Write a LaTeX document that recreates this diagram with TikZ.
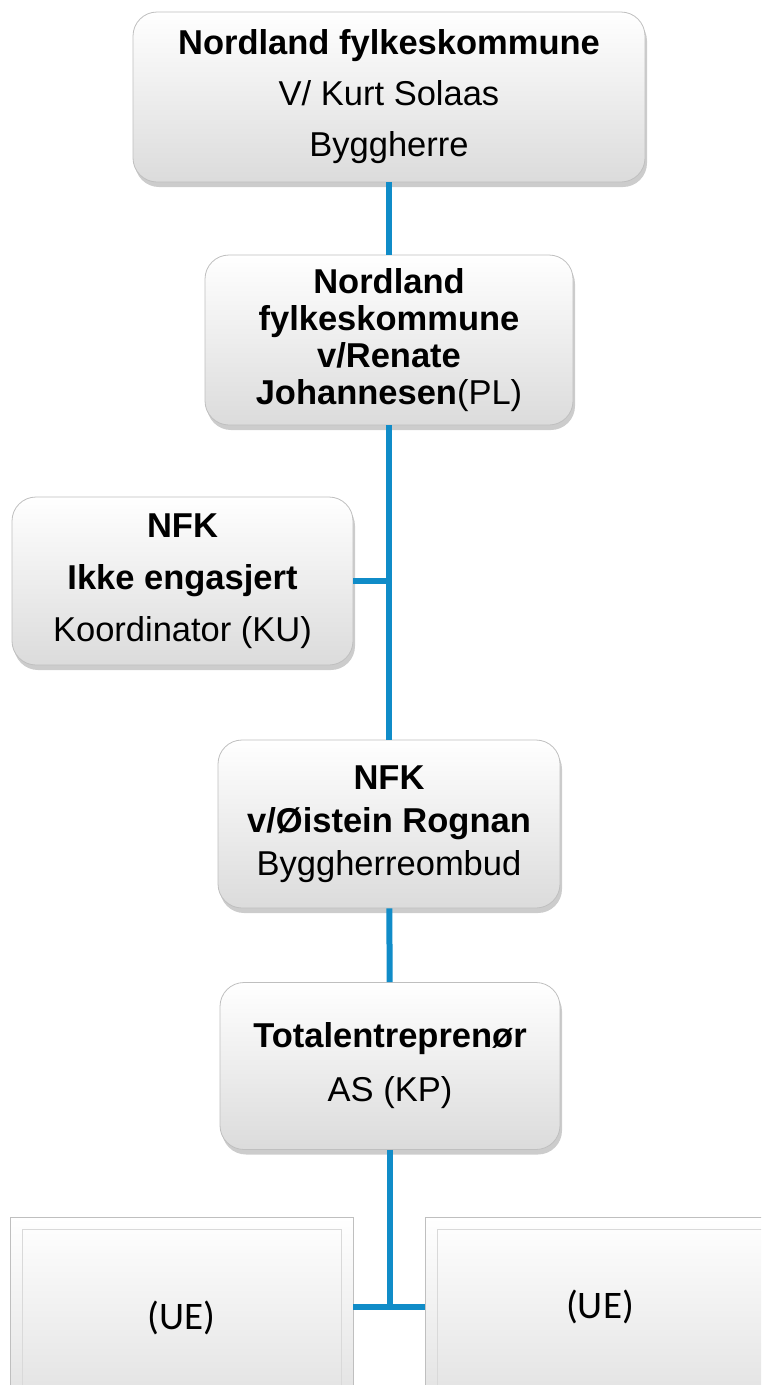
\documentclass[tikz,border=0pt]{standalone}
\usepackage{fontspec}
\setmainfont{Liberation Sans}
\newfontfamily\uefont{Carlito}
\usetikzlibrary{positioning}
\usetikzlibrary{shadows}
\definecolor{linjeblaa}{RGB}{16,140,200}

\tikzset{
  orgboks/.style={draw=gray!50, line width=0.8pt, rounded corners=24pt,
    top color=white, bottom color=gray!28, align=center, inner sep=0pt,
    drop shadow={shadow xshift=2pt, shadow yshift=-5pt, opacity=0.4}},
  ueboks/.style={draw=gray!50, line width=0.8pt, top color=white,
    bottom color=gray!22, align=center, inner sep=0pt,
    minimum width=343pt, minimum height=180pt,
    font=\uefont\fontsize{39}{50}\selectfont,
    path picture={\draw[gray!30, line width=0.6pt]
      ([shift={(12pt,-12pt)}]path picture bounding box.north west) rectangle
      ([shift={(-12pt,12pt)}]path picture bounding box.south east);}},
  linje/.style={draw=linjeblaa, line width=6pt}
}

\begin{document}
\begin{tikzpicture}[x=1pt, y=-1pt]
        \useasboundingbox (0,0) rectangle (761,1385);
        \clip (0,0) rectangle (761,1385);
        % bokser
        \node[orgboks, minimum width=512pt, minimum height=170pt, font=\fontsize{34.5}{51}\selectfont]
          (byggherre) at (389,97) {\textbf{Nordland fylkeskommune}\\V/ Kurt Solaas\\Byggherre};
        \node[orgboks, minimum width=368pt, minimum height=170pt, font=\fontsize{34.5}{37}\selectfont]
          (prosjektleder) at (389,340) {\textbf{Nordland}\\\textbf{fylkeskommune}\\\textbf{v/Renate}\\\textbf{Johannesen}(PL)};
        \node[orgboks, minimum width=341pt, minimum height=168pt, font=\fontsize{34.5}{52}\selectfont]
          (koordinator) at (182.5,581) {\textbf{NFK}\\\textbf{Ikke engasjert}\\Koordinator (KU)};
        \node[orgboks, minimum width=342pt, minimum height=168pt, font=\fontsize{34.5}{43}\selectfont]
          (ombud) at (389,824) {\textbf{NFK}\\\textbf{v/Øistein Rognan}\\Byggherreombud};
        \node[orgboks, minimum width=340pt, minimum height=167pt, font=\fontsize{34.5}{54}\selectfont]
          (entreprenor) at (390,1066) {\textbf{Totalentreprenør}\\AS (KP)};
        \node[ueboks] (ue1) at (181.5,1307) {\mbox{}\\(UE)};
        \node[ueboks, minimum width=350pt] (ue2) at (600,1307) {(UE)};
        % linjer
        \coordinate (kuknekk) at (prosjektleder.south |- koordinator.east);
        \coordinate (ueknekk) at (entreprenor.south |- ue1.east);
        \draw[linje] (byggherre) -- (prosjektleder);
        \draw[linje] (prosjektleder) -- (ombud);
        \draw[linje] (koordinator) -- (kuknekk);
        \draw[linje] (ombud) -- (entreprenor);
        \draw[linje] (entreprenor) -- (ueknekk);
        \draw[linje] (ue1) -- (ue2);
      \end{tikzpicture}
\end{document}
